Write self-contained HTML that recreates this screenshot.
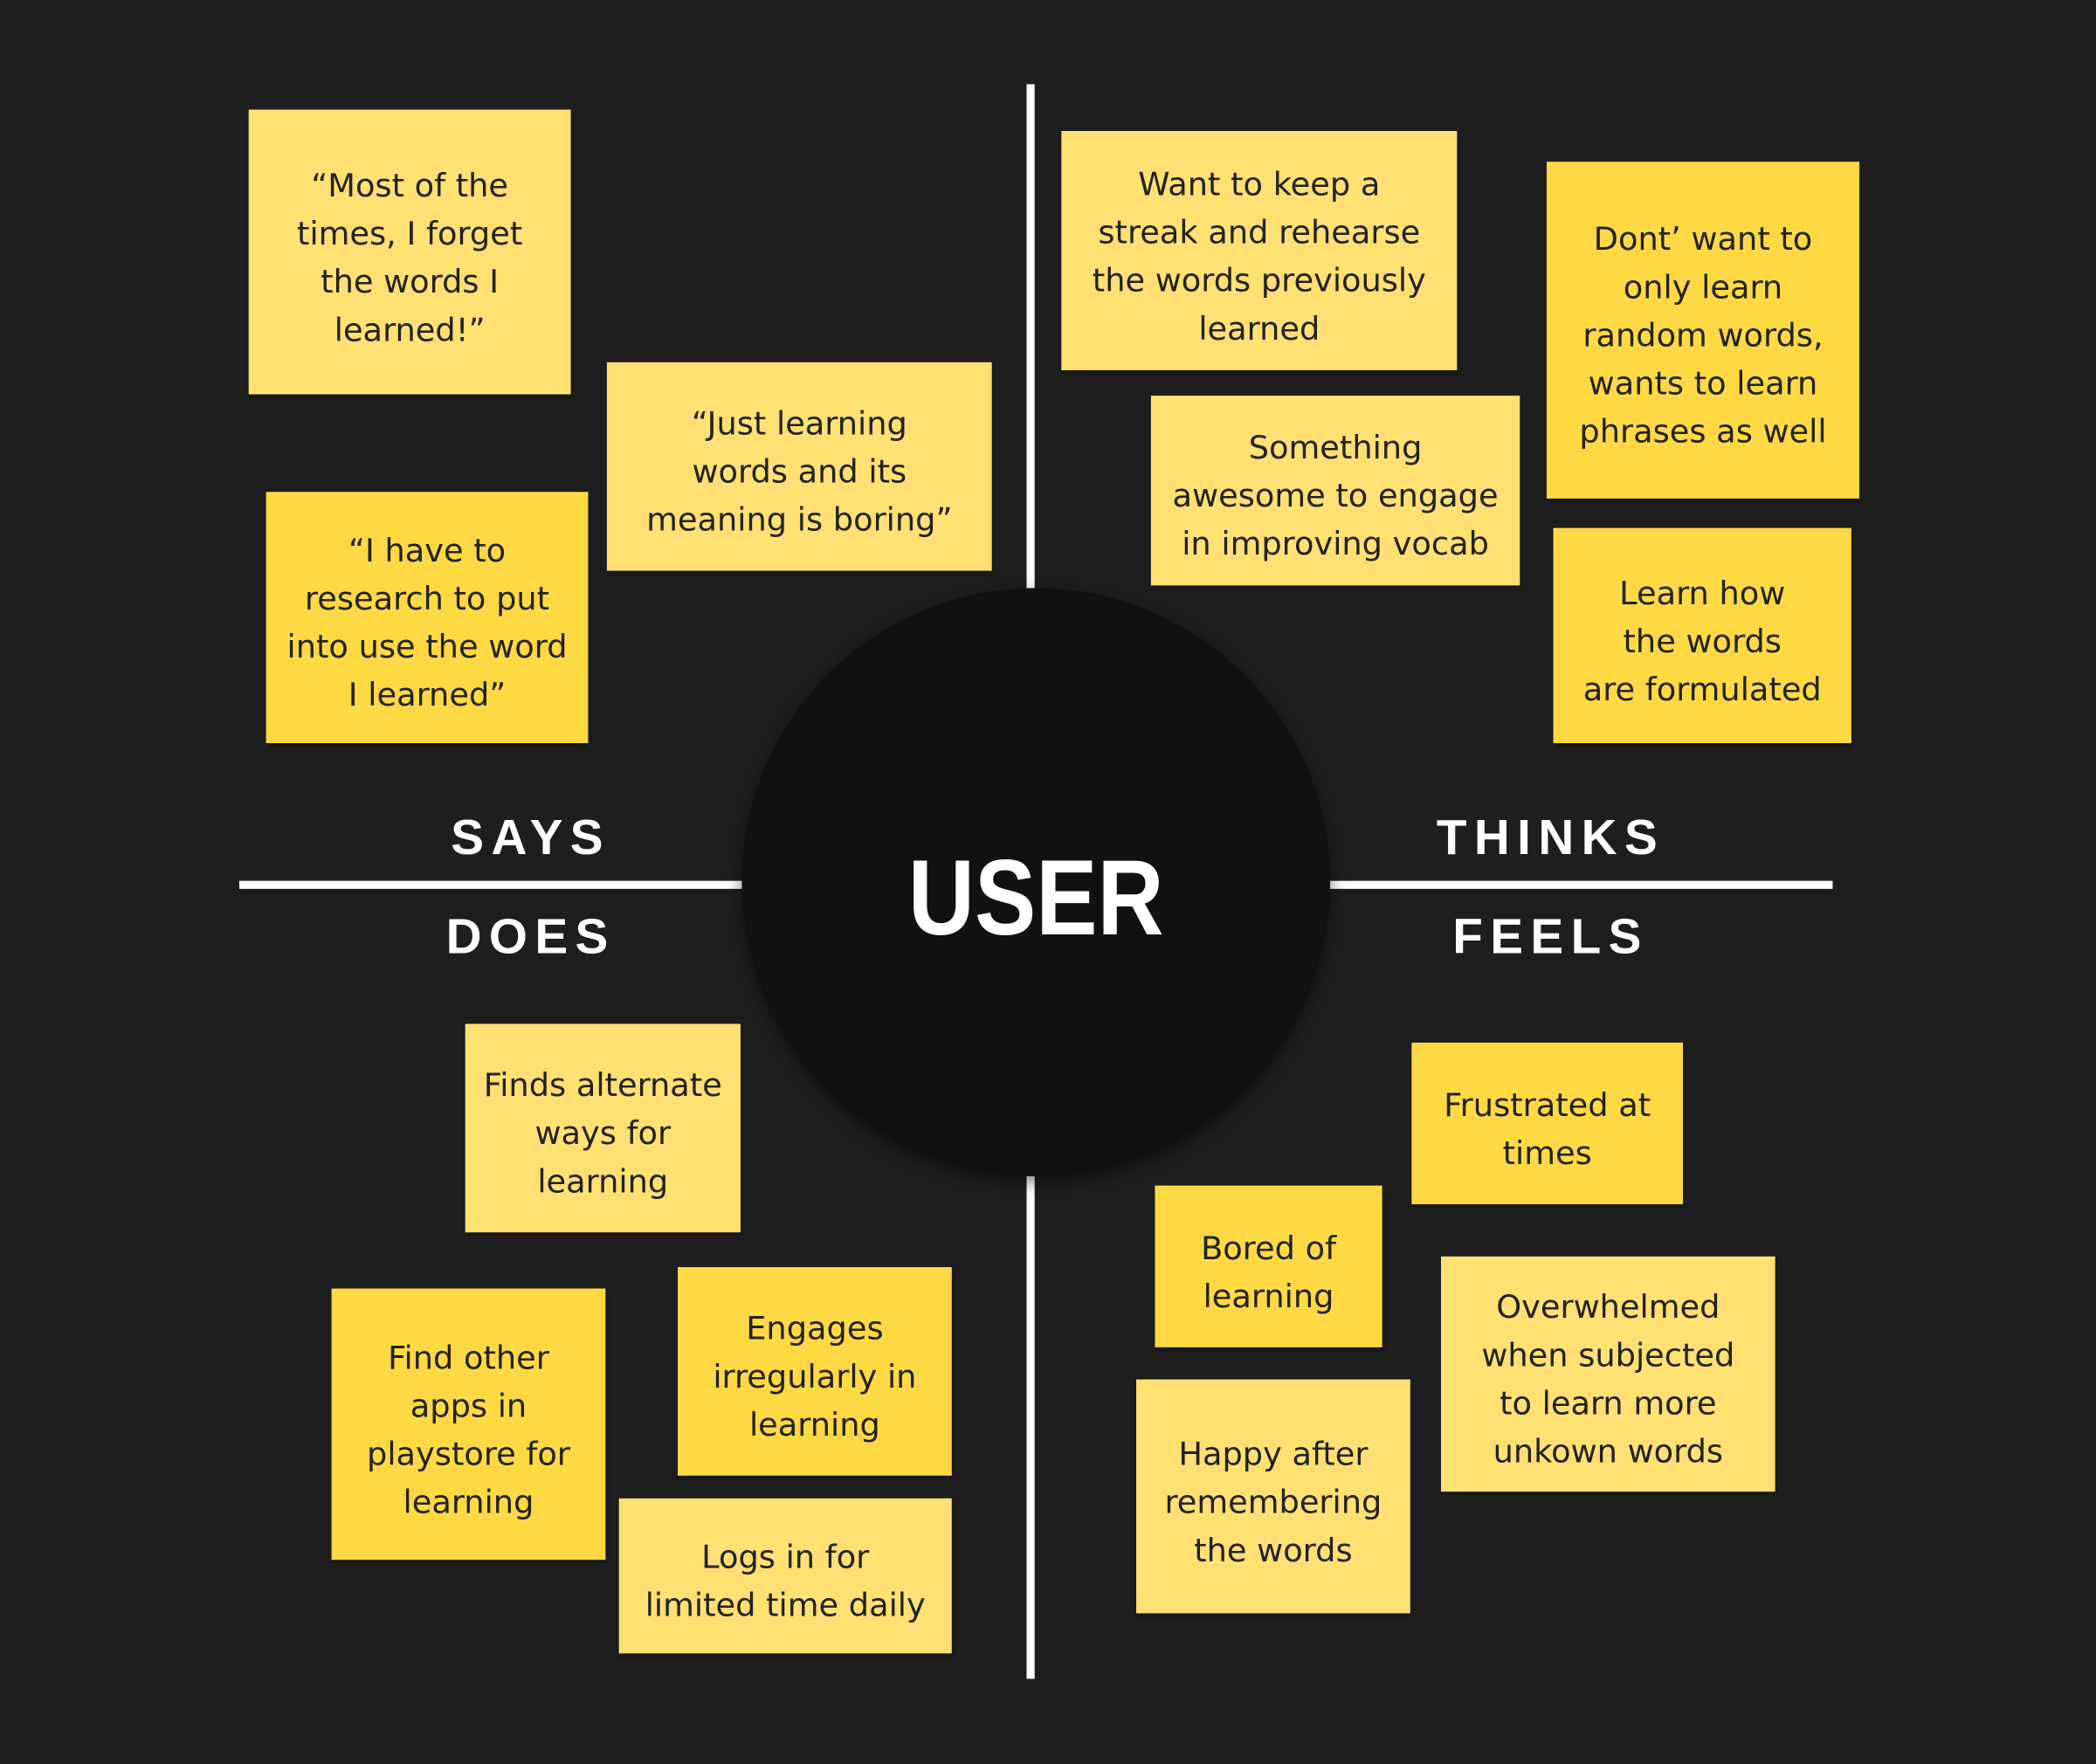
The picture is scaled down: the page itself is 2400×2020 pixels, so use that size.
<!DOCTYPE html>
<html><head><meta charset="utf-8"><style>
html,body{margin:0;padding:0;background:#1e1e1e;width:2400px;height:2020px;overflow:hidden}
#w{position:absolute;left:0;top:0;width:1568px;height:1320px;transform:scale(1.530612);transform-origin:0 0;font-family:"DejaVu Sans","Liberation Sans",sans-serif}
.n{position:absolute;display:flex;align-items:center;justify-content:center;text-align:center;color:#222;font-size:24px;line-height:36px;box-shadow:1px 2px 3px rgba(0,0,0,.35);box-sizing:border-box;padding-top:8px}
.L{background:#ffe073}.D{background:#ffd944}
.ln{position:absolute;background:#fff}
.lab{position:absolute;color:#fff;font-size:37px;font-weight:bold;letter-spacing:5.5px;transform:translateX(-50%);white-space:nowrap;font-family:"Liberation Sans",sans-serif}
</style></head><body><div id="w">
<div class="ln" style="left:768px;top:63px;width:6px;height:377px"></div>
<div class="ln" style="left:768px;top:880px;width:6px;height:376px"></div>
<div class="ln" style="left:179px;top:659px;width:376px;height:6px"></div>
<div class="ln" style="left:995px;top:659px;width:376px;height:6px"></div>
<div style="position:absolute;left:555px;top:440px;width:440px;height:440px;border-radius:50%;background:#111;box-shadow:0 4px 12px rgba(0,0,0,.5)"></div>
<div style="position:absolute;left:555px;top:622px;width:440px;text-align:center;color:#fff;font-size:80px;font-weight:bold;font-family:'Liberation Sans',sans-serif;line-height:100px;transform:scaleX(0.86)">USER</div>
<div class="lab" style="left:397px;top:606px">SAYS</div>
<div class="lab" style="left:397px;top:680px">DOES</div>
<div class="lab" style="left:1160px;top:606px">THINKS</div>
<div class="lab" style="left:1160px;top:680px">FEELS</div>

<div class="n L" style="left:186px;top:82px;width:241px;height:213px">“Most of the<br>times, I forget<br>the words I<br>learned!”</div>
<div class="n L" style="left:454px;top:271px;width:288px;height:156px">“Just learning<br>words and its<br>meaning is boring”</div>
<div class="n D" style="left:199px;top:368px;width:241px;height:188px">“I have to<br>research to put<br>into use the word<br>I learned”</div>
<div class="n L" style="left:794px;top:98px;width:296px;height:179px">Want to keep a<br>streak and rehearse<br>the words previously<br>learned</div>
<div class="n D" style="left:1157px;top:121px;width:234px;height:252px">Dont’ want to<br>only learn<br>random words,<br>wants to learn<br>phrases as well</div>
<div class="n L" style="left:861px;top:296px;width:276px;height:142px">Something<br>awesome to engage<br>in improving vocab</div>
<div class="n D" style="left:1162px;top:395px;width:223px;height:161px">Learn how<br>the words<br>are formulated</div>
<div class="n L" style="left:348px;top:766px;width:206px;height:156px">Finds alternate<br>ways for<br>learning</div>
<div class="n D" style="left:248px;top:964px;width:205px;height:203px">Find other<br>apps in<br>playstore for<br>learning</div>
<div class="n D" style="left:507px;top:948px;width:205px;height:156px">Engages<br>irregularly in<br>learning</div>
<div class="n L" style="left:463px;top:1121px;width:249px;height:116px">Logs in for<br>limited time daily</div>
<div class="n D" style="left:1056px;top:780px;width:203px;height:121px">Frustrated at<br>times</div>
<div class="n D" style="left:864px;top:887px;width:170px;height:121px">Bored of<br>learning</div>
<div class="n L" style="left:1078px;top:940px;width:250px;height:176px">Overwhelmed<br>when subjected<br>to learn more<br>unkown words</div>
<div class="n L" style="left:850px;top:1032px;width:205px;height:175px">Happy after<br>remembering<br>the words</div>
</div></body></html>
